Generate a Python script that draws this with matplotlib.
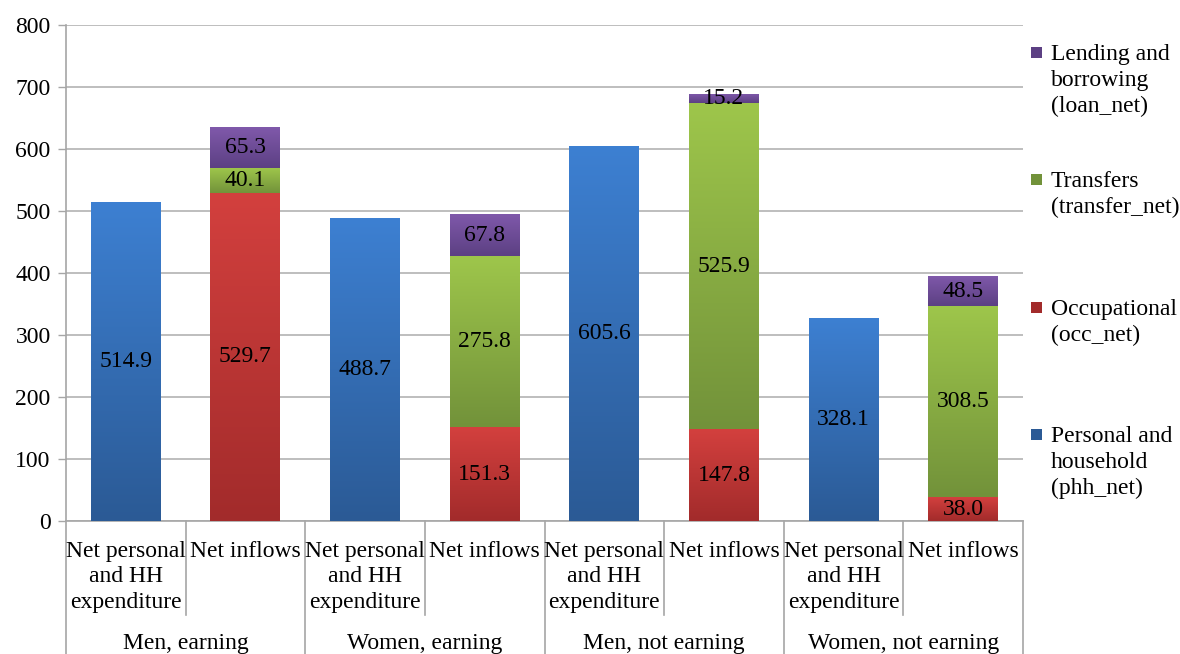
import numpy as np
import matplotlib
matplotlib.use("Agg")
import matplotlib.pyplot as plt
from matplotlib.colors import LinearSegmentedColormap
from matplotlib.patches import Rectangle
from matplotlib.transforms import blended_transform_factory

plt.rcParams['font.family'] = ['Liberation Serif', 'DejaVu Serif']

# Data
groups = ["Men, earning", "Women, earning", "Men, not earning", "Women, not earning"]
sub_labels = ["Net personal\nand HH\nexpenditure", "Net inflows"] * 4
phh_net = [514.9, 0, 488.7, 0, 605.6, 0, 328.1, 0]
occ_net = [0, 529.7, 0, 151.3, 0, 147.8, 0, 38.0]
transfer_net = [0, 40.1, 0, 275.8, 0, 525.9, 0, 308.5]
loan_net = [0, 65.3, 0, 67.8, 0, 15.2, 0, 48.5]

series = [
    ("Personal and\nhousehold\n(phh_net)", phh_net, "#3d80d2", "#2b5a95"),
    ("Occupational\n(occ_net)", occ_net, "#d3403e", "#a22b2b"),
    ("Transfers\n(transfer_net)", transfer_net, "#9ec64b", "#72923a"),
    ("Lending and\nborrowing\n(loan_net)", loan_net, "#8059ab", "#5c4083"),
]

FS = 17
W, H = 1180, 654
fig = plt.figure(figsize=(W / 100, H / 100), dpi=100)
ax = fig.add_axes([66 / W, 133 / H, (1023 - 66) / W, 496 / H])

x = np.arange(len(phh_net))
bottom = np.zeros(len(x))
grad = np.linspace(1, 0, 256).reshape(-1, 1)
for name, vals, ctop, cbot in series:
    vals = np.array(vals, dtype=float)
    bars = ax.bar(x, vals, width=0.585, bottom=bottom, color=cbot, zorder=3,
                  linewidth=0)
    cmap = LinearSegmentedColormap.from_list(name, [cbot, ctop])
    for b, v, b0 in zip(bars, vals, bottom):
        if v <= 0:
            continue
        x0, w = b.get_x(), b.get_width()
        im = ax.imshow(grad, cmap=cmap, extent=[x0, x0 + w, b0, b0 + v],
                       aspect='auto', zorder=4, interpolation='bilinear')
        im.set_clip_path(b)
        ax.text(x0 + w / 2, b0 + v / 2, f"{v:.1f}", ha='center', va='center',
                fontsize=FS, color='black', zorder=6)
    bottom = bottom + vals

ax.set_xlim(-0.5, len(x) - 0.5)
ax.set_ylim(0, 800)
ax.set_yticks(np.arange(0, 801, 100))
ax.tick_params(axis='y', length=6, width=1, color='#a6a6a6', labelsize=FS, pad=5)
ax.tick_params(axis='x', length=0, labelbottom=False)
ax.yaxis.grid(True, color='#b3b3b3', linewidth=1.2, zorder=0)
ax.set_axisbelow(True)
for s in ['top', 'right']:
    ax.spines[s].set_visible(False)
ax.spines['left'].set_color('#a6a6a6')
ax.spines['bottom'].set_color('#a6a6a6')
ax.spines['left'].set_linewidth(1.2)
ax.spines['bottom'].set_linewidth(1.2)

# Hierarchical category axis
tr = blended_transform_factory(ax.transData, ax.transAxes)
sub_depth = (521 - 615) / 496
full_depth = (521 - 660) / 496
for i in range(len(x) + 1):
    xb = i - 0.5
    depth = full_depth if i % 2 == 0 else sub_depth
    ax.plot([xb, xb], [0, depth], transform=tr, color='#a6a6a6', lw=1.2,
            clip_on=False)
for i, lab in enumerate(sub_labels):
    ax.text(i, (521 - 541) / 496, lab, transform=tr, ha='center', va='top',
            fontsize=FS, linespacing=1.28)
for g, name in enumerate(groups):
    ax.text(2 * g + 0.5, (521 - 644) / 496, name, transform=tr, ha='center',
            va='center', fontsize=FS)

# Legend
leg_tops = [44, 171, 299, 426]
for top, (name, vals, ctop, cbot) in zip(leg_tops, series[::-1]):
    fig.patches.append(Rectangle((1031 / W, 1 - (top + 14) / H), 11 / W, 11 / H,
                                 transform=fig.transFigure, facecolor=cbot,
                                 edgecolor='none'))
    fig.text(1051 / W, 1 - top / H, name, ha='left', va='top',
             fontsize=17, linespacing=1.3)

fig.savefig("out.png", dpi=100)
